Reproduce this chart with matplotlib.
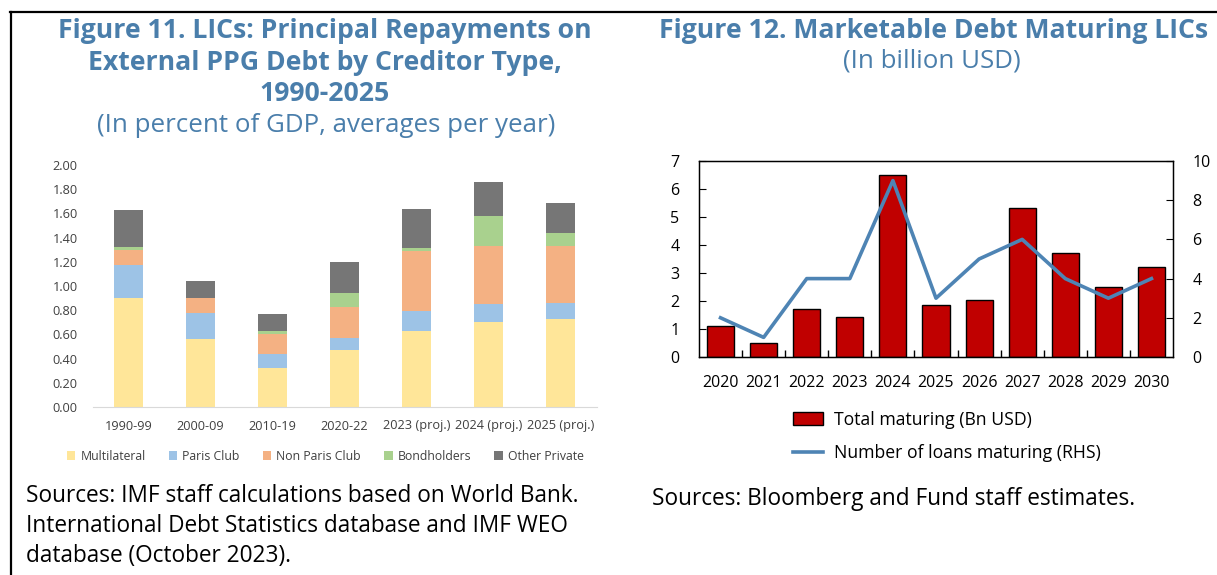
import numpy as np
import matplotlib.pyplot as plt
from matplotlib.lines import Line2D
from matplotlib.patches import Patch

plt.rcParams['font.family'] = ['Open Sans', 'DejaVu Sans']

# Figure 11 data: principal repayments, percent of GDP
periods = ['1990-99', '2000-09', '2010-19', '2020-22',
           '2023 (proj.)', '2024 (proj.)', '2025 (proj.)']
creditors = ['Multilateral', 'Paris Club', 'Non Paris Club', 'Bondholders', 'Other Private']
multilateral = [0.90, 0.56, 0.32, 0.47, 0.63, 0.70, 0.73]
paris_club = [0.27, 0.22, 0.12, 0.10, 0.16, 0.15, 0.13]
non_paris_club = [0.13, 0.12, 0.16, 0.26, 0.50, 0.48, 0.47]
bondholders = [0.02, 0.00, 0.03, 0.11, 0.02, 0.25, 0.11]
other_private = [0.31, 0.14, 0.14, 0.26, 0.33, 0.28, 0.25]
creditor_colors = ['#FFE699', '#9DC3E6', '#F4B183', '#A9D18E', '#767676']

# Figure 12 data: marketable debt maturing
years = ['2020', '2021', '2022', '2023', '2024', '2025',
         '2026', '2027', '2028', '2029', '2030']
total_maturing = [1.10, 0.49, 1.73, 1.44, 6.50, 1.85, 2.04, 5.31, 3.71, 2.50, 3.20]
loans_maturing = [2, 1, 4, 4, 9, 3, 5, 6, 4, 3, 4]

W, H = 1217, 575
fig = plt.figure(figsize=(W / 100, H / 100), dpi=100)


def px_rect(x0, y0, x1, y1):
    # pixel box (top-left origin) -> figure fraction rect
    return [x0 / W, 1 - y1 / H, (x1 - x0) / W, (y1 - y0) / H]


title_blue = '#4A7EAB'

# frame lines
fig.add_artist(Line2D([10 / W, 1], [1 - 12 / H, 1 - 12 / H], color='black', lw=1.6))
fig.add_artist(Line2D([11 / W, 11 / W], [0, 1 - 12 / H], color='black', lw=1.6))

# ---- left panel ----
for txt, yy in [('Figure 11. LICs: Principal Repayments on', 31),
                ('External PPG Debt by Creditor Type,', 63),
                ('1990-2025', 94)]:
    fig.text(325 / W, 1 - yy / H, txt, ha='center', va='center',
             fontsize=19.2, fontweight='bold', color=title_blue)
fig.text(326 / W, 1 - 126 / H, '(In percent of GDP, averages per year)', ha='center', va='center',
         fontsize=18.6, color=title_blue)

ax1 = fig.add_axes(px_rect(93, 165, 597, 407))
series = [multilateral, paris_club, non_paris_club, bondholders, other_private]
x = np.arange(len(periods))
bottom = np.zeros(len(periods))
for name, vals, col in zip(creditors, series, creditor_colors):
    ax1.bar(x, vals, 0.4, bottom=bottom, color=col, label=name)
    bottom += np.array(vals)
ax1.set_ylim(0, 2.0)
ax1.set_xlim(-0.49, 6.51)
ax1.set_yticks(np.arange(0, 2.01, 0.2))
ax1.set_yticklabels([f'{v:.2f}' for v in np.arange(0, 2.01, 0.2)])
ax1.set_xticks(x)
ax1.set_xticklabels(periods)
for s in ['top', 'right', 'left']:
    ax1.spines[s].set_visible(False)
ax1.spines['bottom'].set_color('#D9D9D9')
ax1.tick_params(axis='both', length=0, labelsize=9.2, labelcolor='#404040')
ax1.tick_params(axis='y', pad=11)
ax1.tick_params(axis='x', pad=9)
ax1.legend(loc='center left', bbox_to_anchor=(62 / W, 1 - 456 / H), bbox_transform=fig.transFigure,
           ncol=5, frameon=False, fontsize=8.8, handlelength=0.7, handleheight=0.7,
           handletextpad=0.4, columnspacing=1.9, labelcolor='#404040', borderaxespad=0)

for txt, yy in [('Sources: IMF staff calculations based on World Bank.', 496),
                ('International Debt Statistics database and IMF WEO', 526),
                ('database (October 2023).', 556)]:
    fig.text(26 / W, 1 - yy / H, txt, ha='left', va='center', fontsize=16.3, color='black')

# ---- right panel ----
fig.text(934 / W, 1 - 31 / H, 'Figure 12. Marketable Debt Maturing LICs', ha='center', va='center',
         fontsize=19.2, fontweight='bold', color=title_blue)
fig.text(932 / W, 1 - 61 / H, '(In billion USD)', ha='center', va='center',
         fontsize=18.6, color=title_blue)

ax2 = fig.add_axes(px_rect(699, 161, 1173, 357))
xi = np.arange(len(years))
ax2.bar(xi, total_maturing, 0.63, color='#C00000', edgecolor='black', linewidth=1.0,
        label='Total maturing (Bn USD)')
ax2.set_xlim(-0.5, len(years) - 0.5)
ax2.set_ylim(0, 7)
ax2.set_yticks(range(0, 8))
ax2.set_xticks(xi)
ax2.set_xticklabels(years)
ax2.set_xticks(np.arange(0.5, len(years) - 1, 1), minor=True)
ax2.tick_params(axis='x', which='major', length=0, pad=13, labelsize=11.5)
ax2.tick_params(axis='x', which='minor', direction='in', length=5, width=1)
ax2.tick_params(axis='y', direction='in', length=5, pad=14, labelsize=11.5)
for s in ax2.spines.values():
    s.set_linewidth(1.0)

ax3 = ax2.twinx()
ax3.plot(xi, loans_maturing, color='#4E84B4', lw=2.6, label='Number of loans maturing (RHS)')
ax3.set_ylim(0, 10)
ax3.set_yticks(range(0, 11, 2))
ax3.tick_params(axis='y', direction='in', length=5, pad=14, labelsize=11.5)

handles = [Patch(facecolor='#C00000', edgecolor='black', linewidth=1.0),
           Line2D([0], [0], color='#4E84B4', lw=2.6)]
labels = ['Total maturing (Bn USD)', 'Number of loans maturing (RHS)']
fig.legend(handles, labels, loc='upper left', bbox_to_anchor=(793 / W, 1 - 411 / H),
           frameon=False, fontsize=12.7, handlelength=1.7, handleheight=0.75,
           handletextpad=0.6, labelspacing=0.85, borderaxespad=0, borderpad=0)

fig.text(652 / W, 1 - 499 / H, 'Sources: Bloomberg and Fund staff estimates.',
         ha='left', va='center', fontsize=16.3, color='black')

fig.savefig('out.png', dpi=100)
